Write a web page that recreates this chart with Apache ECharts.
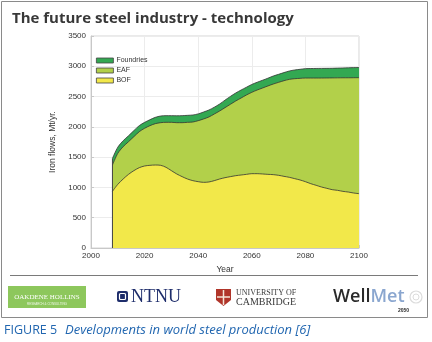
<!DOCTYPE html>
<html>
<head>
<meta charset="utf-8">
<script src="https://cdn.jsdelivr.net/npm/echarts@6/dist/echarts.min.js"></script>
<style>
  html, body { margin: 0; padding: 0; background: #fff; }
  #chart { width: 432px; height: 342px; }
</style>
</head>
<body>
<div id="chart"></div>
<script>
// Years of the scenario (every two years)
const years = [2008,2010,2012,2014,2016,2018,2020,2022,2024,2026,2028,2030,2032,2034,2036,2038,2040,
  2042,2044,2046,2048,2050,2052,2054,2056,2058,2060,2062,2064,2066,2068,2070,2072,2074,2076,2078,
  2080,2082,2084,2086,2088,2090,2092,2094,2096,2098,2100];

// Iron flows by route, Mt/yr
const bof = [935,1051,1139,1216,1277,1326,1354,1365,1370,1365,1332,1277,1222,1178,1139,1112,1095,
  1084,1090,1112,1139,1161,1178,1194,1205,1216,1227,1227,1222,1216,1211,1200,1183,1167,1145,1123,
  1095,1062,1035,1007,985,963,952,935,924,908,897];
const eaf = [435,512,534,539,561,594,622,655,683,704,743,798,847,891,936,968,1007,
  1046,1073,1100,1123,1156,1194,1233,1271,1310,1343,1381,1419,1459,1496,1535,1579,1617,1650,1678,
  1711,1744,1771,1799,1822,1845,1857,1875,1886,1903,1915];
const foundries = [108,102,98,98,100,100,98,98,104,110,110,110,114,116,115,116,112,
  115,115,112,115,124,130,132,132,128,130,128,128,128,132,132,134,138,144,149,
  155,157,158,159,159,159,161,162,165,167,168];

const seriesNames = ['BOF', 'EAF', 'Foundries'];
const seriesColors = ['#f2e84a', '#b2d04a', '#33a852'];
const xTicks = { min: 2000, max: 2100, step: 20 };
const yTicks = { min: 0, max: 3500, step: 500 };

// cumulative tops of the layered areas (BOF, BOF+EAF, BOF+EAF+Foundries)
const layers = [bof, eaf, foundries];
const cumulative = layers.map((_, k) =>
  years.map((y, i) => [y, layers.slice(0, k + 1).reduce((s, arr) => s + arr[i], 0)]));
const startTotal = cumulative[2][0][1];

const chart = echarts.init(document.getElementById('chart'), null, { renderer: 'canvas' });

const edge = '#333';
const axisFont = 'Liberation Sans, Arial, sans-serif';

// each layer is filled from zero; later (lower) layers are painted on top
const areaSeries = [2, 1, 0].map((k, order) => ({
  name: seriesNames[k], type: 'line', data: cumulative[k],
  showSymbol: false, smooth: 0.3, z: 2 + order,
  lineStyle: { color: edge, width: 0.8 },
  itemStyle: { color: seriesColors[k] },
  areaStyle: { color: seriesColors[k], opacity: 1 }
}));

chart.setOption({
  animation: false,
  backgroundColor: '#fff',
  title: {
    text: 'The future steel industry - technology',
    left: 7, top: 6,
    textStyle: { fontFamily: 'Open Sans, sans-serif', fontWeight: 'bold', fontSize: 15, color: '#383838' }
  },
  legend: {
    data: ['Foundries', 'EAF', 'BOF'],
    orient: 'vertical',
    left: 96, top: 57, padding: 0,
    itemWidth: 17, itemHeight: 5, itemGap: 3,
    icon: 'rect',
    textStyle: { fontSize: 7, color: '#333', fontFamily: axisFont, padding: [0, 0, 0, -2] },
    itemStyle: { borderColor: '#444', borderWidth: 0.8 }
  },
  grid: {
    left: 91, top: 36, width: 268, height: 212,
    show: true, borderColor: '#d4d4d4', borderWidth: 1, backgroundColor: '#fff'
  },
  xAxis: {
    type: 'value', min: xTicks.min, max: xTicks.max, interval: xTicks.step,
    name: 'Year', nameLocation: 'middle', nameGap: 14,
    nameTextStyle: { fontSize: 8.5, color: '#333', fontFamily: axisFont },
    axisLine: { lineStyle: { color: '#c8c8c8' } },
    axisTick: { inside: true, length: 3, lineStyle: { color: '#c8c8c8' } },
    axisLabel: { fontSize: 8, color: '#333', margin: 4, fontFamily: axisFont, formatter: (v) => String(v) },
    splitLine: { lineStyle: { color: '#ececec' } }
  },
  yAxis: {
    type: 'value', min: yTicks.min, max: yTicks.max, interval: yTicks.step,
    name: 'Iron flows, Mt/yr.', nameLocation: 'middle', nameGap: 27,
    nameTextStyle: { fontSize: 8.5, color: '#333', fontFamily: axisFont },
    axisLine: { show: true, lineStyle: { color: '#c8c8c8' } },
    axisTick: { show: true, inside: true, length: 3, lineStyle: { color: '#c8c8c8' } },
    axisLabel: { fontSize: 8, color: '#333', margin: 5, fontFamily: axisFont, formatter: (v) => String(v) },
    splitLine: { lineStyle: { color: '#ececec' } }
  },
  series: areaSeries.concat([
    {
      // left edge of the stacked areas at the first year
      type: 'line', data: [[years[0], 0], [years[0], startTotal]],
      showSymbol: false, silent: true, z: 6,
      lineStyle: { color: '#444', width: 1 }
    }
  ]),
  graphic: [
    // outer frame and separator
    { type: 'rect', shape: { x: 1.5, y: 1.5, width: 426, height: 316 }, style: { fill: 'none', stroke: '#8a8a8a', lineWidth: 1 }, z: -1 },
    { type: 'line', shape: { x1: 10, y1: 275.5, x2: 418, y2: 275.5 }, style: { stroke: '#7a7a7a', lineWidth: 1 } },

    // Oakdene Hollins logo
    { type: 'rect', shape: { x: 8, y: 286, width: 78, height: 22 }, style: { fill: '#8dc75c' } },
    { type: 'text', style: { x: 47, y: 297, text: 'OAKDENE HOLLINS', font: '7px "Liberation Serif", serif', fill: '#fff', align: 'center', verticalAlign: 'middle' } },
    { type: 'text', style: { x: 47, y: 304, text: 'RESEARCH & CONSULTING', font: '3px "Liberation Sans", sans-serif', fill: '#eef6e6', align: 'center', verticalAlign: 'middle' } },

    // NTNU logo
    { type: 'rect', shape: { x: 117, y: 291, width: 11, height: 11, r: 2 }, style: { fill: '#1e2d6b' } },
    { type: 'rect', shape: { x: 119.5, y: 293.5, width: 6, height: 6, r: 1 }, style: { fill: 'none', stroke: '#fff', lineWidth: 1.2 } },
    { type: 'text', style: { x: 131, y: 297, text: 'NTNU', font: '18px "Liberation Serif", serif', fill: '#1e2d6b', verticalAlign: 'middle' } },

    // Cambridge logo
    { type: 'polygon', shape: { points: [[216, 289], [231, 289], [231, 300], [223.5, 306], [216, 300]] }, style: { fill: '#b0352a' } },
    { type: 'line', shape: { x1: 223.5, y1: 290, x2: 223.5, y2: 305 }, style: { stroke: '#f4e6d8', lineWidth: 1.5 } },
    { type: 'line', shape: { x1: 217, y1: 297, x2: 230, y2: 297 }, style: { stroke: '#f4e6d8', lineWidth: 1.5 } },
    { type: 'text', style: { x: 236, y: 293, text: 'UNIVERSITY OF', font: '8px "Liberation Serif", serif', fill: '#3a3a3a', verticalAlign: 'middle' } },
    { type: 'text', style: { x: 236, y: 302, text: 'CAMBRIDGE', font: '10px "Liberation Serif", serif', fill: '#3a3a3a', verticalAlign: 'middle' } },

    // WellMet 2050 logo
    { type: 'circle', shape: { cx: 416, cy: 297, r: 6 }, style: { fill: 'none', stroke: '#dcdcdc', lineWidth: 1.2 } },
    { type: 'circle', shape: { cx: 416, cy: 297, r: 3 }, style: { fill: 'none', stroke: '#dcdcdc', lineWidth: 1 } },
    {
      type: 'text',
      style: {
        x: 333, y: 297, text: '{a|Well}{b|Met}', verticalAlign: 'middle',
        rich: {
          a: { fontFamily: 'Open Sans, sans-serif', fontWeight: 600, fontSize: 18, fill: '#2a2a2a', color: '#2a2a2a' },
          b: { fontFamily: 'Open Sans, sans-serif', fontWeight: 600, fontSize: 18, fill: '#8aa6cf', color: '#8aa6cf' }
        }
      }
    },
    { type: 'text', style: { x: 398, y: 311, text: '2050', font: 'bold 5px "Liberation Sans", sans-serif', fill: '#2a2a2a', verticalAlign: 'middle' } },

    // caption
    { type: 'text', style: { x: 4, y: 330, text: 'FIGURE 5', font: '12.5px "Open Sans", sans-serif', fill: '#2166b0', verticalAlign: 'middle' } },
    { type: 'text', style: { x: 65, y: 330, text: 'Developments in world steel production [6]', font: 'italic 13px "Open Sans", sans-serif', fill: '#2166b0', verticalAlign: 'middle' } }
  ]
});
</script>
</body>
</html>
